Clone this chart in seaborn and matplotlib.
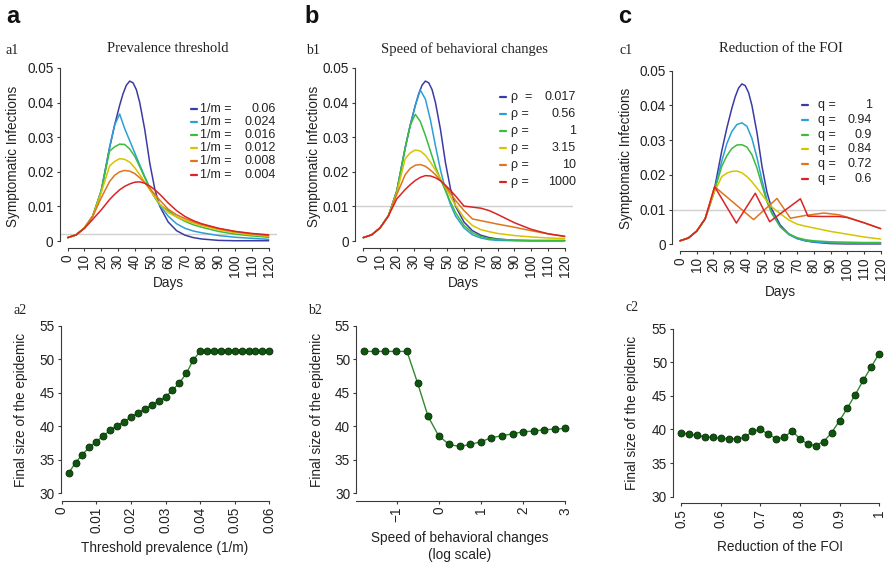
import matplotlib
matplotlib.use('Agg')
import matplotlib.pyplot as plt
from matplotlib.lines import Line2D
import seaborn as sns

# ---------------- data ----------------
days = [0, 5, 10, 15, 20, 25, 28, 31, 34, 37, 40, 43, 46, 49, 52, 55, 60, 65, 70, 75, 80, 90, 100, 110, 120]

# no-intervention epidemic (same in a1, b1, c1), sampled a bit finer round the peak
baseline_days = [0, 5, 10, 15, 20, 25, 28, 31, 33, 35, 37, 39, 41, 43, 46, 49, 52, 55, 60, 65, 70, 75, 80,
                 90, 100, 110, 120]
baseline = [.001, .0018, .0038, .0073, .0145, .0270, .0335, .0392, .0425, .0450, .0462, .0457, .0437, .0400,
            .0322, .0225, .0150, .0100, .0055, .0030, .0017, .0010, .0006, .0002, .0001, .0001, .0001]

# a1: prevalence threshold
a1_values = ["0.06", "0.024", "0.016", "0.012", "0.008", "0.004"]
a1_cyan = [.001, .0018, .0038, .0073, .0145, .0270, .0335, .0367, .0325, .0290, .0255, .0220, .0186, .0153,
           .0127, .0103, .0072, .0050, .0037, .0029, .0024, .0016, .0011, .0008, .0005]
a1_green = [.001, .0018, .0038, .0073, .0145, .0260, .0272, .0280, .0279, .0266, .0245, .0215, .0183, .0152,
            .0126, .0105, .0088, .0070, .0057, .0047, .0040, .0028, .0020, .0015, .0011]
a1_yellow = [.001, .0018, .0038, .0073, .0140, .0217, .0230, .0238, .0236, .0228, .0212, .0192, .0170, .0148,
             .0127, .0107, .0082, .0070, .0060, .0052, .0045, .0033, .0024, .0018, .0014]
a1_orange = [.001, .0018, .0038, .0072, .0125, .0172, .0190, .0200, .0204, .0202, .0195, .0183, .0168, .0152,
             .0135, .0118, .0092, .0076, .0065, .0056, .0048, .0036, .0027, .0021, .0016]
a1_red = [.001, .0018, .0037, .0063, .0090, .0120, .0135, .0148, .0158, .0165, .0170, .0171, .0167, .0159,
          .0148, .0135, .0110, .0088, .0071, .0059, .0050, .0037, .0028, .0022, .0018]

# b1: speed of behavioural changes
b1_values = ["0.017", "0.56", "1", "3.15", "10", "1000"]
b1_cyan = [.001, .0018, .0038, .0073, .0145, .0270, .0335, .0392, .0436, .0410, .0350, .0275, .0205, .0148,
           .0105, .0072, .0038, .0018, .0009, .0004, .0002, .0001, .0001, .0001, .0001]
b1_green = [.001, .0018, .0038, .0073, .0145, .0270, .0335, .0366, .0345, .0305, .0260, .0215, .0178, .0145,
            .0112, .0082, .0045, .0024, .0013, .0007, .0005, .0003, .0002, .0002, .0002]
b1_yellow = [.001, .0018, .0038, .0073, .0140, .0238, .0255, .0263, .0260, .0248, .0228, .0205, .0180, .0155,
             .0128, .0103, .0068, .0045, .0033, .0027, .0022, .0016, .0012, .0009, .0007]
b1_orange = [.001, .0018, .0038, .0073, .0135, .0192, .0210, .0219, .0221, .0216, .0205, .0192, .0175, .0158,
             .0138, .0117, .0088, .0064, .0059, .0054, .0049, .0040, .0030, .0021, .0013]
b1_red = [.001, .0018, .0038, .0073, .0122, .0149, .0163, .0175, .0184, .0189, .0188, .0183, .0174, .0161,
          .0146, .0130, .0101, .0098, .0095, .0088, .0077, .0053, .0034, .0021, .0014]

# c1: reduction of the force of infection
c1_values = ["1", "0.94", "0.9", "0.84", "0.72", "0.6"]
c1_cyan = [.001, .0018, .0038, .0073, .0145, .0240, .0290, .0325, .0345, .0350, .0340, .0305, .0250, .0185,
           .0128, .0090, .0050, .0028, .0016, .0010, .0007, .0004, .0003, .0003, .0003]
c1_green = [.001, .0018, .0038, .0073, .0145, .0225, .0255, .0276, .0286, .0287, .0280, .0258, .0220, .0170,
            .0122, .0088, .0050, .0030, .0019, .0013, .0010, .0007, .0006, .0005, .0005]
c1_yellow = [.001, .0018, .0038, .0073, .0145, .0195, .0205, .0210, .0211, .0206, .0195, .0180, .0162, .0143,
             .0124, .0107, .0088, .0070, .0058, .0052, .0047, .0037, .0029, .0021, .0015]
c1_orange_days = [0, 5, 10, 15, 20.7, 44, 58, 66, 75, 86, 95, 100, 110, 120]
c1_orange = [.001, .0018, .0038, .0073, .0166, .0071, .0132, .0075, .0083, .0090, .0085, .0078, .0062, .0045]
c1_red_days = [0, 5, 10, 15, 20.7, 33.7, 45, 53.6, 72, 76.5, 85, 95, 100, 110, 120]
c1_red = [.001, .0018, .0038, .0073, .0166, .0061, .0147, .0065, .0131, .0081, .0080, .0080, .0077, .0062, .0045]

# bottom row: final size of the epidemic
a2_x = [0.002, 0.004, 0.006, 0.008, 0.010, 0.012, 0.014, 0.016, 0.018, 0.020, 0.022, 0.024, 0.026, 0.028, 0.030,
        0.032, 0.034, 0.036, 0.038, 0.040, 0.042, 0.044, 0.046, 0.048, 0.050, 0.052, 0.054, 0.056, 0.058, 0.060]
a2_y = [33.0, 34.6, 35.8, 36.9, 37.7, 38.6, 39.4, 40.1, 40.7, 41.4, 42.0, 42.6, 43.2, 43.8, 44.4,
        45.4, 46.5, 47.9, 49.9, 51.2, 51.2, 51.2, 51.2, 51.2, 51.2, 51.2, 51.2, 51.2, 51.2, 51.2]
b2_x = [-1.77, -1.52, -1.27, -1.02, -0.76, -0.51, -0.26, -0.01, 0.24, 0.49,
        0.74, 0.99, 1.24, 1.49, 1.75, 2.0, 2.25, 2.5, 2.75, 3.0]
b2_y = [51.2, 51.2, 51.2, 51.2, 51.2, 46.5, 41.5, 38.6, 37.3, 37.0,
        37.3, 37.7, 38.3, 38.6, 38.9, 39.2, 39.3, 39.5, 39.6, 39.7]
c2_x = [0.50, 0.52, 0.54, 0.56, 0.58, 0.60, 0.62, 0.64, 0.66, 0.68, 0.70, 0.72, 0.74,
        0.76, 0.78, 0.80, 0.82, 0.84, 0.86, 0.88, 0.90, 0.92, 0.94, 0.96, 0.98, 1.00]
c2_y = [39.5, 39.3, 39.1, 38.9, 38.8, 38.7, 38.6, 38.6, 38.8, 39.7, 40.0, 39.3, 38.6,
        38.8, 39.8, 38.6, 37.8, 37.6, 38.2, 39.5, 41.3, 43.2, 45.2, 47.3, 49.3, 51.3]

colors = ['#3b3ba6', '#2c9fd6', '#3dbb3d', '#d6c400', '#e0741e', '#da2424']

# ---------------- figure ----------------
sns.set_theme(style="ticks")
plt.rcParams['font.family'] = ['Liberation Sans', 'DejaVu Sans']
W, H = 886, 566
fig = plt.figure(figsize=(W / 100, H / 100), dpi=100)

INK = '#3a3a3a'
SERIF = ['Liberation Serif', 'DejaVu Serif']


def px_axes(l, t, r, b):
    return fig.add_axes([l / W, 1 - b / H, (r - l) / W, (b - t) / H])


def ftext(x, y, s, **kw):
    fig.text(x / W, 1 - y / H, s, **kw)


def style_axes(ax, xb, yb):
    sns.despine(ax=ax)
    ax.spines['left'].set_bounds(*yb)
    ax.spines['bottom'].set_bounds(*xb)
    for s in ('left', 'bottom'):
        ax.spines[s].set_color(INK)
        ax.spines[s].set_linewidth(0.8)
    ax.tick_params(length=2.5, width=0.8, color=INK, labelcolor='#222222', labelsize=9.8, pad=2)
    ax.tick_params(axis='x', labelrotation=90)
    ax.set_facecolor('none')
    ax.set_xlabel('')
    ax.set_ylabel('')


def top_panel(ax, series, hline):
    ax.axhline(hline, color='#cfcfcf', lw=1.0, zorder=0)
    for (x, y), c in zip(series, colors):
        sns.lineplot(x=x, y=y, color=c, lw=1.1, ax=ax, legend=False)
    ax.set_xlim(-4.8, 124.8)
    ax.set_ylim(-0.002, 0.052)
    ax.set_xticks(range(0, 121, 10))
    ax.set_yticks([0, 0.01, 0.02, 0.03, 0.04, 0.05])
    ax.set_yticklabels(['0', '0.01', '0.02', '0.03', '0.04', '0.05'])
    style_axes(ax, (0, 120), (0, 0.05))


def legend(x_handle, x_label, x_value, y0, dy, label, values, first=None):
    for i, (v, c) in enumerate(zip(values, colors)):
        y = y0 + i * dy
        fig.add_artist(Line2D([x_handle / W, (x_handle + 6) / W], [1 - y / H, 1 - y / H],
                              color=c, lw=1.6, transform=fig.transFigure))
        lab = first if (i == 0 and first) else label
        ftext(x_label, y, lab, ha='left', va='center', fontsize=9, color='#222222')
        ftext(x_value, y, v, ha='right', va='center', fontsize=9, color='#222222')


def bottom_panel(ax, x, y):
    sns.lineplot(x=x, y=y, color='#2f8a2f', lw=1.0, marker='o', markersize=5,
                 markerfacecolor='#0d570d', markeredgecolor='#0a2a0a', markeredgewidth=0.6,
                 ax=ax, legend=False)
    ax.set_yticks([30, 35, 40, 45, 50, 55])


# ---- top row
ax = px_axes(59.7, 61, 276.7, 248)
top_panel(ax, [(baseline_days, baseline), (days, a1_cyan), (days, a1_green), (days, a1_yellow),
               (days, a1_orange), (days, a1_red)], 0.002)
legend(191, 200, 276, 109, 13.1, '1/m =', a1_values)

ax = px_axes(355.2, 61, 572.8, 248)
top_panel(ax, [(baseline_days, baseline), (days, b1_cyan), (days, b1_green), (days, b1_yellow),
               (days, b1_orange), (days, b1_red)], 0.01)
legend(499.5, 510.7, 576, 97.3, 16.9, '\u03c1 =', b1_values, first='\u03c1  =')

ax = px_axes(672, 63.8, 888.7, 251.2)
top_panel(ax, [(baseline_days, baseline), (days, c1_cyan), (days, c1_green), (days, c1_yellow),
               (c1_orange_days, c1_orange), (c1_red_days, c1_red)], 0.01)
legend(802, 817.7, 871.7, 105.3, 14.7, 'q =', c1_values)

# ---- bottom row
ax = px_axes(61, 318.6, 277.3, 500.7)
bottom_panel(ax, a2_x, a2_y)
ax.set_xlim(-0.0002, 0.0623)
ax.set_ylim(28.9, 56.1)
ax.set_xticks([0, 0.01, 0.02, 0.03, 0.04, 0.05, 0.06])
ax.set_xticklabels(['0', '0.01', '0.02', '0.03', '0.04', '0.05', '0.06'])
style_axes(ax, (0, 0.06), (30, 55))

ax = px_axes(356.4, 318.6, 573.5, 500.7)
bottom_panel(ax, b2_x, b2_y)
ax.set_xlim(-1.96, 3.19)
ax.set_ylim(28.9, 56.1)
ax.set_xticks([-1, 0, 1, 2, 3])
ax.set_xticklabels(['\u22121', '0', '1', '2', '3'])
style_axes(ax, (-1.96, 3), (30, 55))

ax = px_axes(673.3, 321.3, 887, 503.3)
bottom_panel(ax, c2_x, c2_y)
ax.set_xlim(0.48, 1.02)
ax.set_ylim(29.0, 56.1)
ax.set_xticks([0.5, 0.6, 0.7, 0.8, 0.9, 1.0])
ax.set_xticklabels(['0.5', '0.6', '0.7', '0.8', '0.9', '1'])
style_axes(ax, (0.5, 1.0), (30, 55))

# ---- texts
for x, s in [(6, 'a'), (304, 'b'), (618, 'c')]:
    ftext(x, 22.7, s, ha='left', va='baseline', fontsize=17, fontweight='bold', color='#111111')
for x, y, s in [(6, 53.5, 'a1'), (306, 53.5, 'b1'), (619, 53.5, 'c1'),
                (13, 314.5, 'a2'), (308, 314.5, 'b2'), (626, 311, 'c2')]:
    ftext(x, y, s, ha='left', va='baseline', fontsize=10, family=SERIF, color='#222222')
for x, s in [(167.7, 'Prevalence threshold'), (464, 'Speed of behavioral changes'), (780.5, 'Reduction of the FOI')]:
    ftext(x, 52.5, s, ha='center', va='baseline', fontsize=10.5, family=SERIF, color='#222222')

lab = dict(ha='center', va='center', fontsize=9.8, color='#222222')
for x, y in [(13.3, 156), (314, 156), (626, 158)]:
    ftext(x, y, 'Symptomatic Infections', rotation=90, **lab)
for x, y in [(168, 283.5), (463, 283.5), (780, 292)]:
    ftext(x, y, 'Days', **lab)
for x, y in [(20.7, 410), (316.7, 410), (631.7, 412.5)]:
    ftext(x, y, 'Final size of the epidemic', rotation=90, **lab)
ftext(165, 548, 'Threshold prevalence (1/m)', **lab)
ftext(460, 538, 'Speed of behavioral changes', **lab)
ftext(460, 555, '(log scale)', **lab)
ftext(780, 547, 'Reduction of the FOI', **lab)

fig.savefig('out.png', dpi=100)
